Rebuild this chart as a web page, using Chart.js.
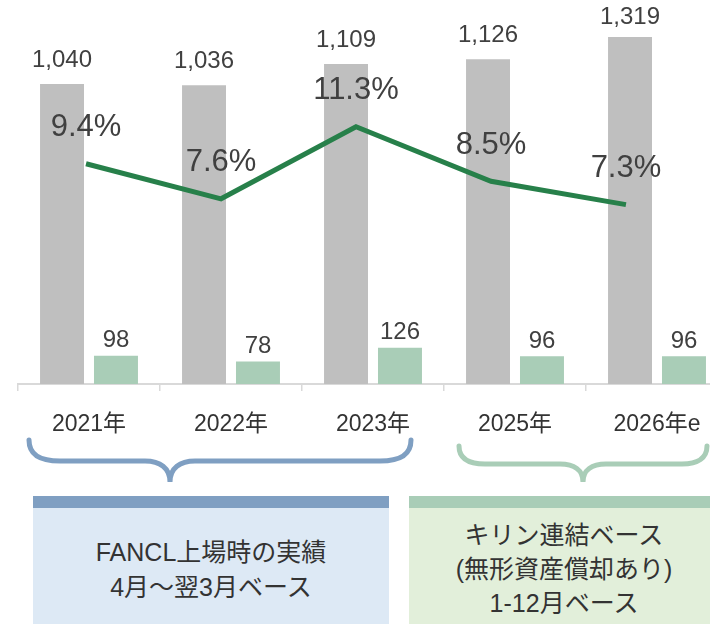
<!DOCTYPE html>
<html>
<head>
<meta charset="utf-8">
<script src="https://cdn.jsdelivr.net/npm/chart.js@4"></script>
<style>
  body { margin: 0; width: 710px; height: 624px; overflow: hidden; background: #fff; position: relative;
         font-family: "Liberation Sans", "Noto Sans CJK JP", sans-serif; color: #333; }
  #chart { position: absolute; left: 0; top: 0; }
  svg { position: absolute; left: 0; top: 0; }
  .box { position: absolute; top: 496px; height: 128px; text-align: center; font-size: 25px; line-height: 34px; }
  .box .strip { height: 12px; }
  #blue { left: 33px; width: 356px; background: #dde9f5; }
  #blue .strip { background: #7f9fc2; }
  #blue .txt { padding-top: 27px; line-height: 35px; }
  #green { left: 409px; width: 310px; background: #e2efda; }
  #green .strip { background: #a9cdb7; }
  #green .txt { padding-top: 10px; }
</style>
</head>
<body>
<canvas id="chart" width="740" height="434"></canvas>

<svg width="710" height="624">
  <path d="M29,440 C29,455 40,461 60,461 L145,461 C160,461 170,468 170,482 C170,468 180,461 195,461 L380,461 C400,461 411,455 411,440"
        fill="none" stroke="#7f9fc2" stroke-width="5" stroke-linecap="round"/>
  <path d="M459,446 C459,458 468,464 485,464 L560,464 C574,464 583,470 583,482 C583,470 592,464 606,464 L682,464 C698,464 707,458 707,446"
        fill="none" stroke="#a9cdb7" stroke-width="5" stroke-linecap="round"/>
</svg>

<div class="box" id="blue"><div class="strip"></div>
  <div class="txt">FANCL上場時の実績<br>4月～翌3月ベース</div></div>
<div class="box" id="green"><div class="strip"></div>
  <div class="txt">キリン連結ベース<br>(無形資産償却あり)<br>1-12月ベース</div></div>

<script>
const years = ['2021年', '2022年', '2023年', '2025年', '2026年e'];
const revenue = [1040, 1036, 1109, 1126, 1319];
const profit = [98, 78, 126, 96, 96];
const margin = [9.4, 7.6, 11.3, 8.5, 7.3];

const FONT = '"Liberation Sans", "Noto Sans CJK JP", sans-serif';

// value labels over bars and line points
const valueLabels = {
    id: 'valueLabels',
    afterDatasetsDraw(chart) {
        const ctx = chart.ctx;
        const top = chart.chartArea.top;
        ctx.save();
        ctx.textAlign = 'center';
        ctx.textBaseline = 'middle';
        ctx.fillStyle = '#404040';
        ctx.font = '24px ' + FONT;
        chart.getDatasetMeta(1).data.forEach((bar, i) => {
            const clipped = bar.y < top;
            ctx.fillText(revenue[i].toLocaleString('en-US'), bar.x, Math.max(bar.y, top) - (clipped ? 20 : 24));
        });
        chart.getDatasetMeta(2).data.forEach((bar, i) => {
            ctx.fillText(String(profit[i]), bar.x, bar.y - 15);
        });
        ctx.font = '31px ' + FONT;
        chart.getDatasetMeta(0).data.forEach((pt, i) => {
            ctx.fillText(margin[i].toFixed(1) + '%', pt.x, pt.y - 36);
        });
        ctx.restore();
    }
};

new Chart(document.getElementById('chart'), {
    type: 'bar',
    data: {
        labels: years,
        datasets: [
            {
                type: 'line',
                data: margin.map((v, i) => ({ x: i, y: v })),
                xAxisID: 'xl',
                yAxisID: 'yl',
                borderColor: '#27804a',
                borderWidth: 5,
                pointRadius: 0,
                tension: 0,
                fill: false,
                order: 0
            },
            {
                data: revenue,
                backgroundColor: '#bfbfbf',
                xAxisID: 'x',
                yAxisID: 'y',
                categoryPercentage: 1.52,
                barPercentage: 0.815,
                order: 1
            },
            {
                data: profit,
                backgroundColor: '#a9cdb7',
                xAxisID: 'x',
                yAxisID: 'y',
                categoryPercentage: 1.52,
                barPercentage: 0.815,
                order: 1
            }
        ]
    },
    options: {
        responsive: false,
        animation: false,
        layout: { padding: { left: 18, right: 12, top: 37, bottom: 0 } },
        plugins: { legend: { display: false }, tooltip: { enabled: false } },
        scales: {
            x: {
                grid: { offset: true, drawOnChartArea: false, drawTicks: true, tickLength: 7, color: '#d9d9d9', lineWidth: 1.5 },
                border: { display: true, color: '#d9d9d9', width: 2 },
                ticks: { color: '#333', font: { family: FONT, size: 23 }, padding: 20, maxRotation: 0, autoSkip: false },
                afterFit(scale) { scale.height = 50; }
            },
            xl: { type: 'linear', display: false, offset: false, grid: { offset: false }, min: -0.504, max: 4.756 },
            y: { display: false, min: 0, max: 1203 },
            yl: { display: false, min: -1.9, max: 15.9 }
        }
    },
    plugins: [valueLabels]
});
</script>
</body>
</html>
